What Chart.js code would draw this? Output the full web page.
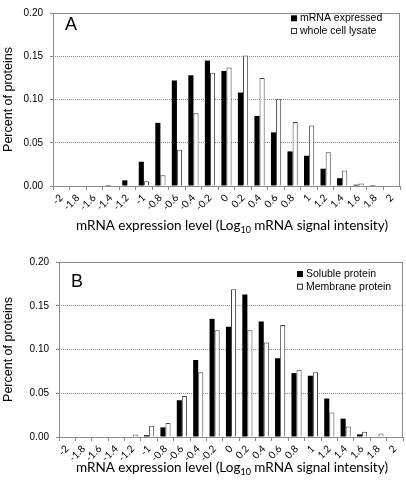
<!DOCTYPE html>
<html>
<head>
<meta charset="utf-8">
<script src="https://cdn.jsdelivr.net/npm/chart.js"></script>
<style>
  html, body { margin: 0; padding: 0; background: #fff; }
  #wrap { position: relative; width: 406px; height: 487px; }
  .pane { position: absolute; left: 0; width: 406px; }
</style>
</head>
<body>
<div id="wrap">
  <div class="pane" style="top:0;height:240px"><canvas id="chartA"></canvas></div>
  <div class="pane" style="top:240px;height:247px"><canvas id="chartB"></canvas></div>
</div>
<script>
// categorias (log10 do sinal de mRNA)
const bins = ['-2', '-1.8', '-1.6', '-1.4', '-1.2', '-1', '-0.8', '-0.6', '-0.4', '-0.2',
              '0', '0.2', '0.4', '0.6', '0.8', '1', '1.2', '1.4', '1.6', '1.8', '2'];

// painel A
const mrnaExpressed   = [0, 0, 0, 0.001, 0.0065, 0.028, 0.073, 0.122, 0.128, 0.145, 0.133,
                         0.108, 0.081, 0.062, 0.040, 0.035, 0.020, 0.009, 0.0015, 0.001, 0];
const wholeCellLysate = [0, 0, 0, 0, 0.001, 0.0055, 0.0125, 0.042, 0.084, 0.131, 0.137,
                         0.151, 0.125, 0.101, 0.074, 0.070, 0.039, 0.018, 0.003, 0.001, 0];

// painel B
const solubleProtein  = [0, 0, 0, 0, 0, 0.002, 0.011, 0.042, 0.088, 0.135, 0.126,
                         0.163, 0.132, 0.090, 0.073, 0.070, 0.044, 0.021, 0.003, 0, 0];
const membraneProtein = [0, 0, 0, 0, 0.003, 0.013, 0.016, 0.047, 0.074, 0.122, 0.169,
                         0.122, 0.108, 0.128, 0.077, 0.074, 0.028, 0.012, 0.006, 0.004, 0];

const yMin = 0, yMax = 0.2, yStep = 0.05;

const ARIAL = "'Liberation Sans', Arial, sans-serif";
const CALIBRI = "Lato, 'Open Sans', sans-serif";

// desenha moldura, letra do painel, legenda e título do eixo x (com subscrito)
const decorPlugin = {
  id: 'decor',
  afterDraw(chart, args, opts) {
    const ctx = chart.ctx;
    const a = chart.chartArea;
    ctx.save();
    ctx.strokeStyle = '#8a8a8a';
    ctx.lineWidth = 1;
    ctx.strokeRect(Math.round(a.left) + 0.5, Math.round(a.top) + 0.5,
                   Math.round(a.right - a.left) - 1, Math.round(a.bottom - a.top));

    // letra do painel
    ctx.fillStyle = '#000';
    ctx.font = '18px ' + ARIAL;
    ctx.textBaseline = 'alphabetic';
    ctx.fillText(opts.letter, opts.letterX, opts.letterY);

    // legenda
    ctx.font = '10.5px ' + ARIAL;
    ctx.textBaseline = 'middle';
    chart.data.datasets.forEach((ds, i) => {
      const y = opts.legY + i * 12.7;
      ctx.fillStyle = ds.backgroundColor;
      ctx.fillRect(opts.legX, y - 3, 6, 6);
      if (ds.borderWidth) {
        ctx.strokeStyle = '#333';
        ctx.strokeRect(opts.legX + 0.5, y - 2.5, 5, 5);
      }
      ctx.fillStyle = '#000';
      ctx.fillText(ds.label, opts.legX + 9, y);
    });

    // título do eixo x
    const p1 = 'mRNA expression level (Log', sub = '10', p2 = ' mRNA signal intensity)';
    const big = '13.5px ' + CALIBRI, small = '9px ' + CALIBRI;
    ctx.font = big; const w1 = ctx.measureText(p1).width, w3 = ctx.measureText(p2).width;
    ctx.font = small; const w2 = ctx.measureText(sub).width;
    let x = opts.titleX - (w1 + w2 + w3) / 2;
    ctx.textBaseline = 'alphabetic';
    ctx.fillStyle = '#000';
    ctx.font = big; ctx.fillText(p1, x, opts.titleY); x += w1;
    ctx.font = small; ctx.fillText(sub, x, opts.titleY + 3); x += w2;
    ctx.font = big; ctx.fillText(p2, x, opts.titleY);
    ctx.restore();
  }
};

function makeChart(id, names, black, white, box, deco) {
  const canvas = document.getElementById(id);
  const H = canvas.parentNode.clientHeight;
  return new Chart(canvas, {
    type: 'bar',
    data: {
      labels: bins,
      datasets: [{
        label: names[0],
        data: black,
        backgroundColor: '#000',
        borderWidth: 0
      }, {
        label: names[1],
        data: white,
        backgroundColor: '#fff',
        borderColor: '#444',
        borderWidth: 1
      }]
    },
    options: {
      responsive: true,
      maintainAspectRatio: false,
      animation: false,
      events: [],
      layout: { autoPadding: false, padding: { left: 0, right: 406 - box.right, top: box.top, bottom: 0 } },
      datasets: { bar: { categoryPercentage: 0.62, barPercentage: 1.0 } },
      plugins: {
        legend: { display: false },
        tooltip: { enabled: false },
        decor: deco
      },
      scales: {
        x: {
          type: 'category',
          offset: true,
          afterFit: s => { s.height = H - box.bottom; },
          grid: { offset: true, drawOnChartArea: false, tickLength: 4, tickColor: '#8a8a8a', color: '#8a8a8a' },
          border: { display: false },
          ticks: {
            autoSkip: false, minRotation: 45, maxRotation: 45, padding: 2,
            color: '#000', font: { family: CALIBRI, size: 10 }
          }
        },
        y: {
          min: yMin, max: yMax,
          afterFit: s => { s.width = box.left; },
          grid: {
            color: c => (c.tick && c.tick.value > 0.001 && c.tick.value < 0.199) ? '#8c8c8c' : 'rgba(0,0,0,0)',
            tickColor: '#8a8a8a', tickLength: 3, tickBorderDash: []
          },
          border: { display: false, dash: [1, 1] },
          ticks: {
            stepSize: yStep, padding: 7, color: '#000',
            font: { family: ARIAL, size: 10 },
            callback: v => v.toFixed(2)
          },
          title: {
            display: true, text: 'Percent of proteins', color: '#000',
            font: { family: ARIAL, size: 12.5 }, padding: { top: 1, bottom: 0 }
          }
        }
      }
    },
    plugins: [decorPlugin]
  });
}

makeChart('chartA', ['mRNA expressed', 'whole cell lysate'], mrnaExpressed, wholeCellLysate,
  { left: 53, right: 400, top: 4, bottom: 186 },
  { letter: 'A', letterX: 65, letterY: 30, legX: 291, legY: 18.3, titleX: 232, titleY: 230 });

makeChart('chartB', ['Soluble protein', 'Membrane protein'], solubleProtein, membraneProtein,
  { left: 59, right: 403, top: 22, bottom: 197 },
  { letter: 'B', letterX: 71, letterY: 46.5, legX: 297, legY: 34, titleX: 232, titleY: 232 });
</script>
</body>
</html>
